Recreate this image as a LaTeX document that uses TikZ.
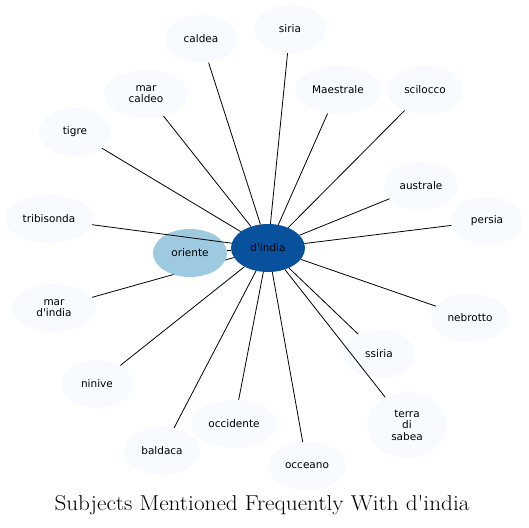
\documentclass[tikz,border=0pt]{standalone}
\usepackage{fontspec}
\setsansfont{DejaVu Sans}
\usetikzlibrary{shapes.geometric,backgrounds}
\definecolor{topicFill}{HTML}{F7FBFF}
\definecolor{hubFill}{HTML}{08519C}
\definecolor{nearFill}{HTML}{9ECAE1}

\begin{document}
\begin{tikzpicture}[
  x=1pt, y=-1pt,
  font=\sffamily\fontsize{10.5}{11.5}\selectfont,
  topic/.style={ellipse, fill=topicFill, draw=none, inner sep=0pt, align=center,
    minimum width=72pt, minimum height=48pt},
  hub/.style={topic, fill=hubFill, minimum width=74pt},
  near/.style={topic, fill=nearFill, minimum width=74pt},
  link/.style={draw=black, line width=0.8pt}
]
\useasboundingbox (0,0) rectangle (529,527);
% center and neighbours
\node[hub] (dindia) at (268,248) {d\textquotesingle india};
\node[near] (oriente) at (190,253) {oriente};
\node[topic] (caldea) at (201,39) {caldea};
\node[topic] (siria) at (290,29) {siria};
\node[topic, minimum width=86pt] (maestrale) at (338,90) {Maestrale};
\node[topic, minimum width=76pt] (scilocco) at (425,90) {scilocco};
\node[topic, minimum width=84pt] (marcaldeo) at (146,94) {mar\\caldeo};
\node[topic] (tigre) at (75,132) {tigre};
\node[topic, minimum width=74pt] (australe) at (421,186) {australe};
\node[topic, minimum width=88pt] (tribisonda) at (49,219) {tribisonda};
\node[topic] (persia) at (487,221) {persia};
\node[topic, minimum width=84pt] (mardindia) at (54,308) {mar\\d\textquotesingle india};
\node[topic, minimum width=78pt] (nebrotto) at (470,318) {nebrotto};
\node[topic] (ssiria) at (379,354) {ssiria};
\node[topic] (ninive) at (97,384) {ninive};
\node[topic, minimum width=86pt] (occidente) at (234,424) {occidente};
\node[topic, minimum width=80pt, minimum height=66pt] (sabea) at (407,425) {terra\\di\\sabea};
\node[topic, minimum width=76pt] (baldaca) at (162,451) {baldaca};
\node[topic, minimum width=78pt] (occeano) at (307,466) {occeano};

% this one runs under oriente
\begin{pgfonlayer}{background}
  \draw[link] (dindia) -- (mardindia);
\end{pgfonlayer}
\foreach \other in {oriente,caldea,siria,maestrale,scilocco,marcaldeo,tigre,
    australe,tribisonda,persia,nebrotto,ssiria,ninive,occidente,
    sabea,baldaca,occeano}
  \draw[link] (dindia) -- (\other);

\node[font=\rmfamily\fontsize{21.5}{24}\selectfont] (title) at (262,505)
  {\scalebox{1.08}[1]{Subjects Mentioned Frequently With d\textquotesingle india}};
\end{tikzpicture}
\end{document}
